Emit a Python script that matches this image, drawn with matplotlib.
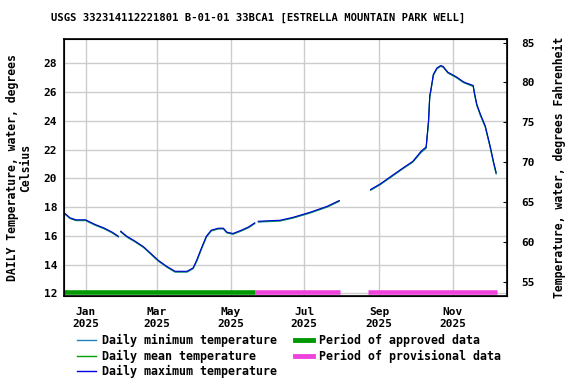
import matplotlib
matplotlib.use("Agg")
import matplotlib.pyplot as plt
import matplotlib.dates as mdates
from matplotlib.lines import Line2D
import numpy as np
import pandas as pd

plt.rcParams['font.family'] = ['DejaVu Sans Mono']
plt.rcParams['font.weight'] = 'bold'

title = "USGS 332314112221801 B-01-01 33BCA1 [ESTRELLA MOUNTAIN PARK WELL]"

dates = ["2024-12-14", "2024-12-15", "2024-12-19", "2024-12-24", "2025-01-01", "2025-01-05",
         "2025-01-09", "2025-01-16", "2025-01-23", "2025-01-28", "2025-01-29",
         "2025-01-30", "2025-02-04", "2025-02-11", "2025-02-18", "2025-02-25", "2025-03-02",
         "2025-03-09", "2025-03-16", "2025-03-26", "2025-03-31", "2025-04-03", "2025-04-07",
         "2025-04-11", "2025-04-15", "2025-04-21", "2025-04-25", "2025-04-28", "2025-05-03",
         "2025-05-10", "2025-05-16", "2025-05-21", "2025-05-22",
         "2025-05-24", "2025-06-11", "2025-06-22", "2025-07-06", "2025-07-20", "2025-07-30",
         "2025-07-31",
         "2025-08-25", "2025-09-02", "2025-09-13", "2025-09-21", "2025-09-29", "2025-10-06",
         "2025-10-10", "2025-10-12", "2025-10-13", "2025-10-14", "2025-10-16", "2025-10-19",
         "2025-10-22", "2025-10-24", "2025-10-28", "2025-11-04", "2025-11-10", "2025-11-12",
         "2025-11-18", "2025-11-19", "2025-11-21", "2025-11-24", "2025-11-28", "2025-12-02",
         "2025-12-05", "2025-12-07"]

t_mean = [17.58, 17.51, 17.22, 17.08, 17.08, 16.91,
          16.75, 16.52, 16.22, 15.94, np.nan,
          16.29, 15.94, 15.59, 15.20, 14.66, 14.27,
          13.85, 13.50, 13.50, 13.74, 14.27, 15.13,
          15.94, 16.36, 16.50, 16.50, 16.22, 16.13,
          16.36, 16.59, 16.87, np.nan,
          16.98, 17.05, 17.26, 17.61, 18.02, 18.42,
          np.nan,
          19.19, 19.58, 20.23, 20.70, 21.15, 21.85,
          22.13, 23.94, 25.68, 26.14, 27.19, 27.65,
          27.81, 27.76, 27.35, 27.03, 26.68, 26.61,
          26.42, 25.91, 25.10, 24.40, 23.59, 22.20,
          21.04, 20.35]

t_min = [17.55, 17.48, 17.20, 17.05, 17.05, 16.88,
         16.72, 16.49, 16.19, 15.91, np.nan,
         16.26, 15.91, 15.56, 15.17, 14.63, 14.24,
         13.82, 13.47, 13.47, 13.71, 14.22, 15.08,
         15.90, 16.33, 16.47, 16.47, 16.19, 16.10,
         16.33, 16.56, 16.84, np.nan,
         16.95, 17.02, 17.23, 17.58, 17.99, 18.39,
         np.nan,
         19.16, 19.55, 20.20, 20.67, 21.12, 21.80,
         22.08, 23.85, 25.60, 26.08, 27.14, 27.62,
         27.78, 27.73, 27.32, 27.00, 26.65, 26.58,
         26.38, 25.86, 25.05, 24.35, 23.54, 22.14,
         20.98, 20.29]

t_max = [17.61, 17.54, 17.25, 17.11, 17.11, 16.94,
         16.78, 16.55, 16.25, 15.97, np.nan,
         16.32, 15.97, 15.62, 15.23, 14.69, 14.30,
         13.88, 13.53, 13.53, 13.77, 14.32, 15.18,
         15.98, 16.39, 16.53, 16.53, 16.25, 16.16,
         16.39, 16.62, 16.90, np.nan,
         17.01, 17.08, 17.29, 17.64, 18.05, 18.45,
         np.nan,
         19.22, 19.61, 20.26, 20.73, 21.18, 21.90,
         22.18, 24.03, 25.76, 26.20, 27.24, 27.68,
         27.84, 27.79, 27.38, 27.06, 26.71, 26.64,
         26.46, 25.96, 25.15, 24.45, 23.64, 22.26,
         21.10, 20.41]

approved_periods = [("2024-12-14", "2025-05-21")]
provisional_periods = [("2025-05-21", "2025-07-31"), ("2025-08-23", "2025-12-08")]
period_level = 12.07

y_ticks = [12, 14, 16, 18, 20, 22, 24, 26, 28]
f_ticks = [55, 60, 65, 70, 75, 80, 85]
x_min, x_max = "2024-12-14", "2025-12-16"
y_min, y_max = 11.81, 29.69

c_min = "#1f80c0"
c_mean = "#00a000"
c_max = "#0000e0"
c_appr = "#009900"
c_prov = "#ee44dd"

d = pd.to_datetime(dates)

fig = plt.figure(figsize=(5.76, 3.84), dpi=100)
ax = fig.add_axes([64/576, 1-296/384, (507-64)/576, (296-39)/384])

ax.grid(True, color="#cccccc", linewidth=1.0, zorder=0)
ax.set_axisbelow(True)

ax.plot(d, t_min, color=c_min, lw=0.8, zorder=3)
ax.plot(d, t_mean, color=c_mean, lw=0.8, zorder=4)
ax.plot(d, t_max, color=c_max, lw=0.8, zorder=5)

for s, e in approved_periods:
    ax.plot(pd.to_datetime([s, e]), [period_level, period_level], color=c_appr, lw=3.3,
            solid_capstyle='butt', zorder=6)
for s, e in provisional_periods:
    ax.plot(pd.to_datetime([s, e]), [period_level, period_level], color=c_prov, lw=3.3,
            solid_capstyle='butt', zorder=6)

ax.set_xlim(pd.Timestamp(x_min), pd.Timestamp(x_max))
ax.set_ylim(y_min, y_max)
ax.set_yticks(y_ticks)
ax.set_yticklabels([str(v) for v in y_ticks])
ax.xaxis.set_major_locator(mdates.MonthLocator(bymonth=[1, 3, 5, 7, 9, 11]))
ax.xaxis.set_major_formatter(mdates.DateFormatter("%b\n%Y"))
ax.tick_params(axis='y', length=0, labelsize=8, pad=5)
ax.tick_params(axis='x', length=0, labelsize=8, pad=8)
for lab in ax.get_xticklabels() + ax.get_yticklabels():
    lab.set_fontweight('bold')
for sp in ax.spines.values():
    sp.set_linewidth(1.2)

ax2 = ax.twinx()
ax2.set_ylim(y_min*9/5+32, y_max*9/5+32)
ax2.set_yticks(f_ticks)
ax2.set_yticklabels([str(v) for v in f_ticks])
ax2.tick_params(axis='y', direction='in', length=3, labelsize=8, pad=10)
for lab in ax2.get_yticklabels():
    lab.set_fontweight('bold')

ax.set_ylabel("DAILY Temperature, water, degrees\nCelsius", fontsize=8.3, fontweight='bold',
              linespacing=1.0, labelpad=8)
ax2.set_ylabel("Temperature, water, degrees Fahrenheit", fontsize=8.3, fontweight='bold',
               labelpad=13)

fig.text(258/576, 1-18/384, title, ha='center', va='center', fontsize=7.6, fontweight='bold')

handles = [Line2D([], [], color=c_min, lw=1.0),
           Line2D([], [], color=c_mean, lw=1.0),
           Line2D([], [], color=c_max, lw=1.0),
           Line2D([], [], color=c_appr, lw=3.5),
           Line2D([], [], color=c_prov, lw=3.5)]
labels = ["Daily minimum temperature", "Daily mean temperature", "Daily maximum temperature",
          "Period of approved data", "Period of provisional data"]
fig.legend(handles, labels, loc='upper left', bbox_to_anchor=(77/576, 1-334/384), ncol=2,
           frameon=False, handlelength=1.6, handletextpad=0.5,
           columnspacing=1.55, labelspacing=0.22, borderpad=0, borderaxespad=0,
           prop={'weight': 'bold', 'size': 8.4})

fig.savefig("out.png", dpi=100)
